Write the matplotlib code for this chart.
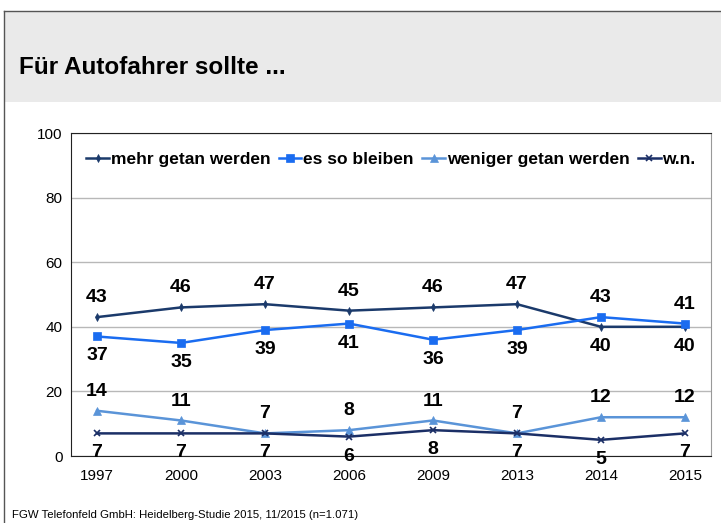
import matplotlib

matplotlib.use("Agg")
import matplotlib.pyplot as plt
from matplotlib.patches import Rectangle
from matplotlib.lines import Line2D

plt.rcParams["font.family"] = ["Liberation Sans", "DejaVu Sans"]

years = ["1997", "2000", "2003", "2006", "2009", "2013", "2014", "2015"]
mehr = [43, 46, 47, 45, 46, 47, 40, 40]
bleiben = [37, 35, 39, 41, 36, 39, 43, 41]
weniger = [14, 11, 7, 8, 11, 7, 12, 12]
wn = [7, 7, 7, 6, 8, 7, 5, 7]

# label position per point: +1 above, -1 below
mehr_pos = [1, 1, 1, 1, 1, 1, -1, -1]
bleiben_pos = [-1, -1, -1, -1, -1, -1, 1, 1]
weniger_pos = [1] * 8
wn_pos = [-1] * 8

series = [
    ("mehr getan werden", mehr, mehr_pos, "#1b3a6b", "d", 4),
    ("es so bleiben", bleiben, bleiben_pos, "#1a6cf0", "s", 6),
    ("weniger getan werden", weniger, weniger_pos, "#5a94d8", "^", 6),
    ("w.n.", wn, wn_pos, "#1b2f66", "x", 5),
]

fig = plt.figure(figsize=(7.21, 5.23), dpi=100)
W, H = 721, 523

# header band and frame
fig.patches.append(Rectangle((4 / W, 1 - 102 / H), 1, 91 / H, transform=fig.transFigure,
                             facecolor="#eaeaea", edgecolor="none", zorder=0))
fig.lines.append(Line2D([4 / W, 4 / W], [0, 1 - 11 / H], transform=fig.transFigure,
                        color="#555555", lw=1))
fig.lines.append(Line2D([4 / W, 1], [1 - 11 / H, 1 - 11 / H], transform=fig.transFigure,
                        color="#555555", lw=1))
fig.text(19 / W, 1 - 68 / H, "Für Autofahrer sollte ...", fontsize=17.5, fontweight="bold",
         va="center", ha="left")
fig.text(12 / W, 1 - 515 / H, "FGW Telefonfeld GmbH: Heidelberg-Studie 2015, 11/2015 (n=1.071)",
         fontsize=8.2, va="center", ha="left")

ax = fig.add_axes([71 / W, 1 - 456 / H, 640 / W, 323 / H])
x = list(range(len(years)))
handles = []
for name, vals, pos, color, marker, ms in series:
    h, = ax.plot(x, vals, color=color, lw=1.8, marker=marker, markersize=ms,
                 markeredgewidth=1.2 if marker == "x" else 0.5, label=name, zorder=3)
    handles.append(h)
    for xi, v, p in zip(x, vals, pos):
        ax.annotate(str(v), (xi, v), xytext=(0, 14 * p), textcoords="offset points",
                    ha="center", va="center", fontsize=14, fontweight="bold", zorder=4)

ax.set_xlim(-0.31, 7.31)
ax.set_ylim(0, 100)
ax.set_yticks([0, 20, 40, 60, 80, 100])
ax.set_xticks(x)
ax.set_xticklabels(years)
ax.tick_params(length=0, labelsize=11)
ax.tick_params(axis="x", pad=9)
ax.tick_params(axis="y", pad=6)
ax.grid(axis="y", color="#b8b8b8", lw=1)
ax.set_axisbelow(True)
for s in ["left", "bottom", "top"]:
    ax.spines[s].set_color("#222222")
ax.spines["right"].set_color("#999999")

leg = ax.legend(handles=handles, loc="upper center", ncol=4, frameon=False,
                bbox_to_anchor=(0.5, 0.99), handlelength=1.3, handletextpad=0.1,
                columnspacing=0.5, prop={"weight": "bold", "size": 12.5})

fig.savefig("out.png", dpi=100)
